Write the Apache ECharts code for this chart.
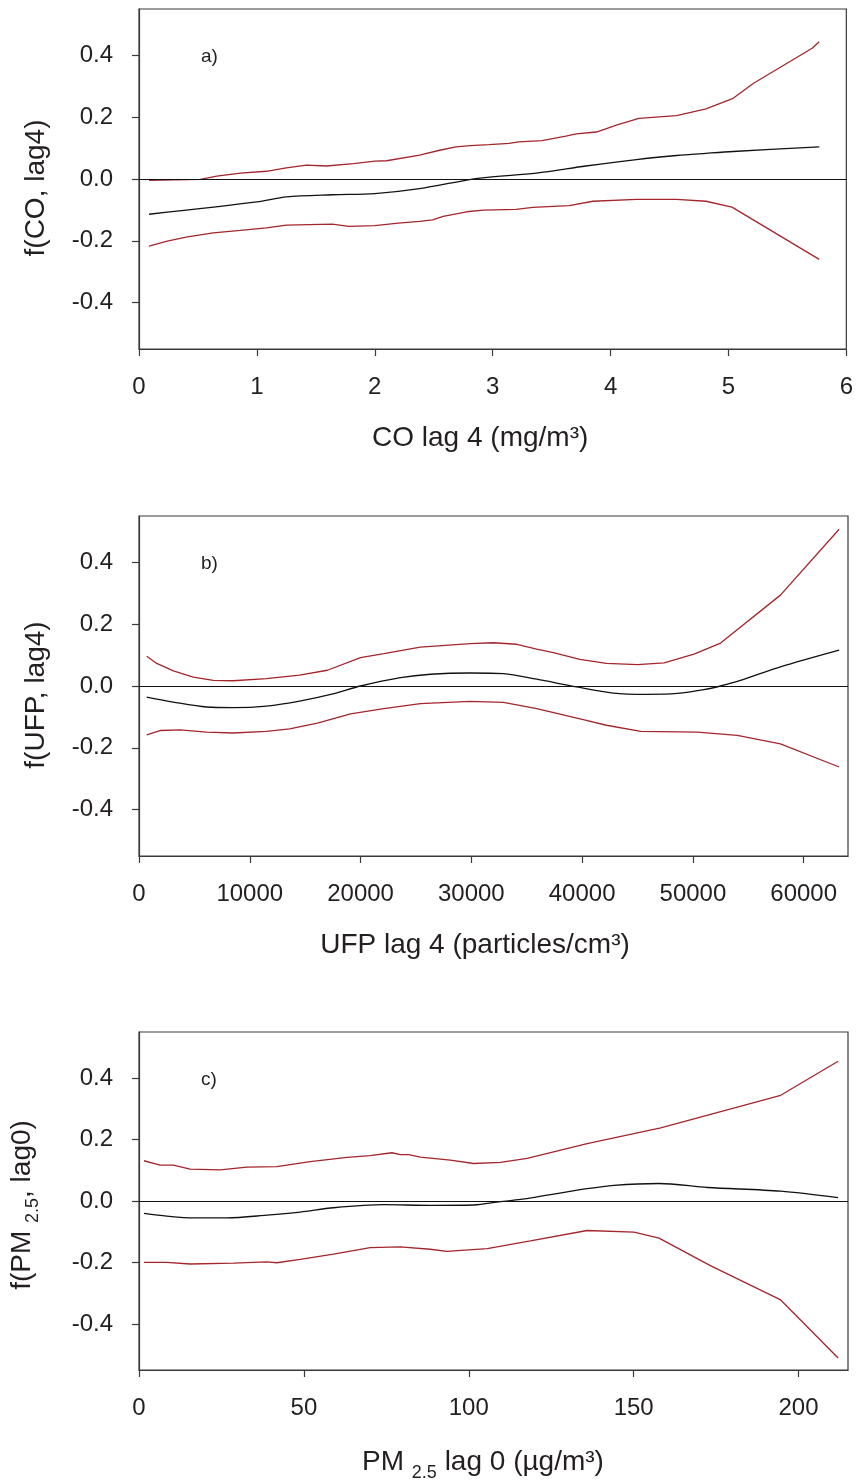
<!DOCTYPE html>
<html>
<head>
<meta charset="utf-8">
<script src="https://cdn.jsdelivr.net/npm/echarts@6/dist/echarts.min.js"></script>
<style>
  html, body { margin: 0; padding: 0; background: #fff; }
  #chart { width: 856px; height: 1483px; }
</style>
</head>
<body>
<div id="chart"></div>
<script>
// a) CO lag 4
const coFit = [[0.085,-0.114],[1.0,-0.074],[1.25,-0.058],[1.64,-0.051],[2.0,-0.047],[2.38,-0.031],[2.89,0.003],[3.37,0.019],[3.79,0.042],[4.22,0.063],[4.56,0.076],[4.81,0.083],[5.04,0.089],[5.77,0.104]];
const coUpper = [[0.085,-0.004],[0.52,-0.001],[0.66,0.009],[0.86,0.019],[1.08,0.025],[1.25,0.036],[1.42,0.045],[1.59,0.042],[1.82,0.050],[2.0,0.058],[2.1,0.059],[2.38,0.077],[2.55,0.093],[2.69,0.104],[2.81,0.108],[2.97,0.111],[3.14,0.115],[3.22,0.120],[3.42,0.124],[3.62,0.139],[3.71,0.146],[3.88,0.152],[4.05,0.174],[4.24,0.196],[4.56,0.205],[4.81,0.227],[5.04,0.261],[5.21,0.309],[5.71,0.423],[5.77,0.444]];
const coLower = [[0.085,-0.217],[0.24,-0.201],[0.4,-0.188],[0.63,-0.174],[0.86,-0.166],[1.08,-0.158],[1.25,-0.149],[1.64,-0.146],[1.78,-0.153],[2.0,-0.151],[2.2,-0.143],[2.38,-0.137],[2.49,-0.132],[2.58,-0.121],[2.78,-0.106],[2.92,-0.101],[3.2,-0.098],[3.34,-0.092],[3.65,-0.086],[3.85,-0.072],[4.22,-0.066],[4.56,-0.066],[4.81,-0.072],[5.03,-0.091],[5.77,-0.260]];

// b) UFP lag 4
const ufpFit = [[700,-0.036],[3100,-0.052],[6100,-0.068],[8500,-0.070],[11500,-0.065],[14500,-0.049],[17600,-0.025],[20000,0.0],[23600,0.027],[26300,0.038],[29900,0.042],[32900,0.040],[35900,0.022],[39500,-0.003],[42800,-0.023],[45900,-0.027],[48600,-0.024],[51000,-0.012],[52500,0.0],[54300,0.018],[57900,0.062],[63200,0.116]];
const ufpUpper = [[700,0.096],[1600,0.073],[3100,0.049],[4900,0.029],[6700,0.018],[8500,0.017],[11500,0.024],[14500,0.035],[17000,0.051],[20000,0.092],[22100,0.105],[25400,0.126],[29900,0.137],[32000,0.140],[34100,0.135],[35900,0.119],[37400,0.108],[39800,0.086],[42200,0.073],[45000,0.069],[47400,0.075],[50100,0.103],[52500,0.139],[57900,0.294],[63200,0.507]];
const ufpLower = [[700,-0.158],[1900,-0.144],[3700,-0.142],[6100,-0.149],[8500,-0.152],[11500,-0.147],[13600,-0.139],[16100,-0.120],[19100,-0.090],[22100,-0.073],[25400,-0.057],[29900,-0.050],[32900,-0.053],[35900,-0.073],[40100,-0.109],[42200,-0.127],[45300,-0.147],[50400,-0.149],[54000,-0.160],[57900,-0.187],[63200,-0.262]];

// c) PM2.5 lag 0
const pmFit = [[1.5,-0.040],[8.4,-0.049],[16.5,-0.055],[26.6,-0.055],[38.8,-0.046],[48.9,-0.036],[59,-0.022],[74.2,-0.012],[88.3,-0.014],[101.5,-0.013],[109.6,-0.002],[115.7,0.005],[135.9,0.040],[144,0.051],[157.7,0.057],[172.4,0.044],[194.6,0.032],[212,0.011]];
const pmUpper = [[1.5,0.131],[6.4,0.117],[10.4,0.117],[15.5,0.104],[24.6,0.101],[32.7,0.110],[41.8,0.112],[51.9,0.128],[63.1,0.142],[70.1,0.148],[76.7,0.157],[79.2,0.151],[81.8,0.151],[85.3,0.143],[94.4,0.133],[101.5,0.122],[109.6,0.126],[117.7,0.139],[135.9,0.187],[158.2,0.238],[194.6,0.344],[212,0.455]];
const pmLower = [[1.5,-0.200],[8.4,-0.200],[15.5,-0.205],[28.6,-0.202],[38.8,-0.198],[41.8,-0.201],[48.9,-0.190],[59,-0.173],[70.1,-0.152],[79.2,-0.149],[88.3,-0.157],[93.4,-0.164],[105.6,-0.155],[118.7,-0.130],[135.9,-0.096],[150.1,-0.101],[157.7,-0.121],[173.4,-0.211],[194.6,-0.322],[212,-0.511]];

// tick labels
const yTicks = [-0.4, -0.2, 0, 0.2, 0.4];
const coTicks = [0, 1, 2, 3, 4, 5, 6];
const ufpTicks = [0, 10000, 20000, 30000, 40000, 50000, 60000];
const pmTicks = [0, 50, 100, 150, 200];

const FONT = '"Liberation Sans", Arial, sans-serif';
const RED = '#a3262c';
const AXIS = '#3a3a3a';
const TXT = '#231f20';

// subscript for PM2.5
const rich = {
  n: { fontSize: 28, fontFamily: FONT, color: TXT, lineHeight: 40 },
  s: { fontSize: 18, fontFamily: FONT, color: TXT, verticalAlign: 'bottom', lineHeight: 8 }
};

const panels = [
  { label: 'a)', top: 9, max: 6, xTicks: coTicks, fit: coFit, up: coUpper, lo: coLower,
    xName: 'CO lag 4 (mg/m³)', yName: 'f(CO, lag4)', xShift: 25, yShift: 18, xGap: 75, yGap: 89 },
  { label: 'b)', top: 516, max: 64000, xTicks: ufpTicks, fit: ufpFit, up: ufpUpper, lo: ufpLower,
    xName: 'UFP lag 4 (particles/cm³)', yName: 'f(UFP, lag4)', xShift: 37, yShift: 18, xGap: 75, yGap: 89 },
  { label: 'c)', top: 1032, max: 215, xTicks: pmTicks, fit: pmFit, up: pmUpper, lo: pmLower,
    xName: '{n|PM }{s|2.5}{n| lag 0 (µg/m³)}', yName: '{n|f(PM }{s|2.5}{n|, lag0)}',
    xShift: 21, yShift: 8, xGap: 72, yGap: 97 }
];

const grid = [], xAxis = [], yAxis = [], series = [], graphic = [];

panels.forEach((p, i) => {
  grid.push({ left: 139, top: p.top, width: 709, height: 340, show: true,
    borderColor: AXIS, borderWidth: 1.2, backgroundColor: 'transparent' });

  xAxis.push({
    type: 'value', gridIndex: i, min: 0, max: p.max,
    name: p.xName, nameLocation: 'middle', nameGap: p.xGap,
    nameTextStyle: { fontSize: 28, fontFamily: FONT, color: TXT, padding: [0, p.xShift, 0, 0], rich: rich },
    axisLine: { show: true, onZero: false, lineStyle: { color: AXIS, width: 1.2 } },
    axisTick: { show: true, inside: false, length: 7, customValues: p.xTicks, lineStyle: { color: AXIS, width: 1.2 } },
    axisLabel: { customValues: p.xTicks, margin: 26, fontSize: 24, fontFamily: FONT, color: TXT,
      formatter: v => String(v) },
    splitLine: { show: false }
  });

  yAxis.push({
    type: 'value', gridIndex: i, min: -0.55, max: 0.55,
    name: p.yName, nameLocation: 'middle', nameGap: p.yGap, nameRotate: 90,
    nameTextStyle: { fontSize: 28, fontFamily: FONT, color: TXT, padding: [0, p.yShift, 0, 0], rich: rich },
    axisLine: { show: true, onZero: false, lineStyle: { color: AXIS, width: 1.2 } },
    axisTick: { show: true, inside: false, length: 7, customValues: yTicks, lineStyle: { color: AXIS, width: 1.2 } },
    axisLabel: { customValues: yTicks, margin: 26, fontSize: 24, fontFamily: FONT, color: TXT,
      formatter: v => v.toFixed(1) },
    splitLine: { show: false }
  });

  const base = { type: 'line', xAxisIndex: i, yAxisIndex: i, showSymbol: false, silent: true,
    animation: false };
  series.push(Object.assign({}, base, { data: p.up, lineStyle: { color: RED, width: 1.3 } }));
  series.push(Object.assign({}, base, { data: p.lo, lineStyle: { color: RED, width: 1.3 } }));
  series.push(Object.assign({}, base, {
    data: p.fit, smooth: 0.3, lineStyle: { color: '#111', width: 1.3 },
    markLine: { silent: true, symbol: 'none', label: { show: false },
      lineStyle: { color: '#111', width: 1.2, type: 'solid' }, data: [{ yAxis: 0 }] }
  }));

  graphic.push({ type: 'text', left: 201, top: p.top + 38,
    style: { text: p.label, fontSize: 19, fontFamily: FONT, fill: TXT } });
});

const chart = echarts.init(document.getElementById('chart'));
chart.setOption({
  animation: false,
  backgroundColor: '#fff',
  grid: grid,
  xAxis: xAxis,
  yAxis: yAxis,
  series: series,
  graphic: graphic
});
</script>
</body>
</html>
